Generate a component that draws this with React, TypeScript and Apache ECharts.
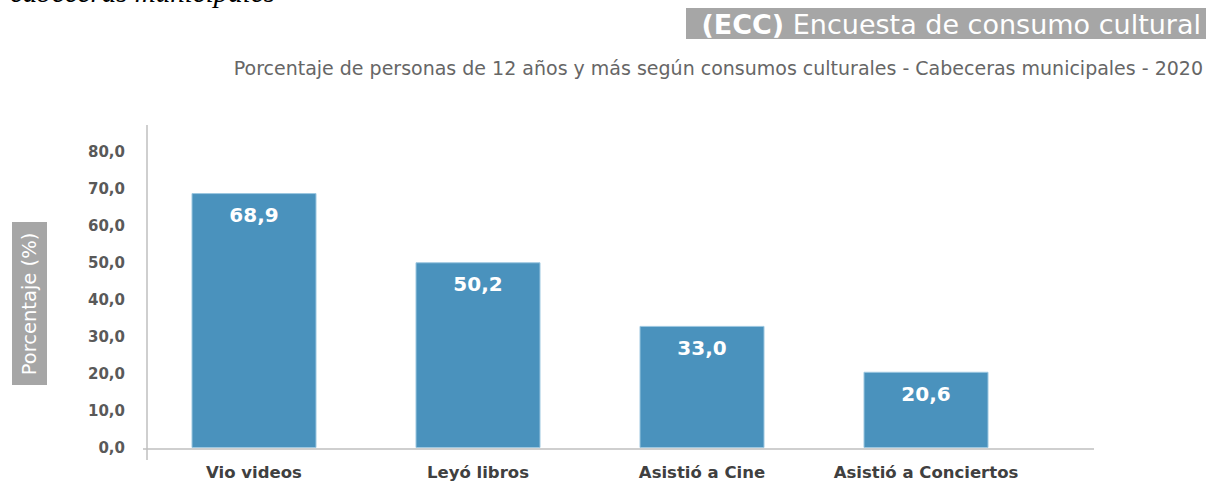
import React, { useEffect, useRef } from "react";
import * as echarts from "echarts";

const categories = ["Vio videos", "Leyó libros", "Asistió a Cine", "Asistió a Conciertos"];
const values = [68.9, 50.2, 33.0, 20.6];
const yTicks = { min: 0, max: 80, interval: 10 };
const titleMain = "Encuesta de consumo cultural";
const titleTag = "(ECC)";
const subtitle = "Porcentaje de personas de 12 años y más según consumos culturales - Cabeceras municipales - 2020";
const yName = "Porcentaje (%)";
const cutText = "cabeceras municipales";

const fmt = (v: number) => v.toFixed(1).replace(".", ",");

export default function App() {
  const ref = useRef<HTMLDivElement>(null);
  useEffect(() => {
    if (!ref.current) return;
    const chart = echarts.init(ref.current, null, { renderer: "svg" });
    const font = "'DejaVu Sans', 'Open Sans', sans-serif";
    chart.setOption({
      animation: false,
      backgroundColor: "#ffffff",
      grid: { left: 142, right: 172, top: 152, bottom: 34, containLabel: false },
      xAxis: {
        type: "category",
        data: categories,
        axisLine: { show: false },
        axisTick: { show: false },
        axisLabel: {
          interval: 0,
          color: "#404040",
          fontFamily: font,
          fontWeight: "bold",
          fontSize: 16.5,
          margin: 16,
        },
      },
      yAxis: {
        type: "value",
        min: yTicks.min,
        max: yTicks.max,
        interval: yTicks.interval,
        axisLine: { show: false },
        axisTick: { show: false },
        splitLine: { show: false },
        axisLabel: {
          color: "#595959",
          fontFamily: font,
          fontWeight: "bold",
          fontSize: 15,
          margin: 17,
          formatter: (v: number) => fmt(v),
        },
      },
      series: [
        {
          type: "bar",
          data: values,
          barWidth: 125,
          itemStyle: { color: "#4a92bd", borderColor: "#9cc7e0", borderWidth: 1 },
          label: {
            show: true,
            position: "insideTop",
            distance: 12,
            color: "#ffffff",
            fontFamily: font,
            fontWeight: "bold",
            fontSize: 20,
            formatter: (p: any) => fmt(p.value),
          },
        },
      ],
      graphic: [
        {
          type: "line",
          shape: { x1: 147, y1: 125, x2: 147, y2: 460 },
          style: { stroke: "#bfbfbf", lineWidth: 1.5 },
        },
        {
          type: "line",
          shape: { x1: 143, y1: 449, x2: 1094, y2: 449 },
          style: { stroke: "#bfbfbf", lineWidth: 1.5 },
        },
        {
          type: "rect",
          shape: { x: 686, y: 8, width: 520, height: 31 },
          style: { fill: "#a6a6a6" },
        },
        {
          type: "text",
          x: 1201,
          y: 24,
          style: {
            text: "{b|" + titleTag + "} " + titleMain,
            align: "right",
            verticalAlign: "middle",
            fill: "#ffffff",
            font: "27px " + font,
            rich: {
              b: { fontWeight: "bold", fontSize: 27, fontFamily: font, fill: "#ffffff" },
            },
          },
        },
        {
          type: "text",
          x: 1203,
          y: 68,
          style: {
            text: subtitle,
            align: "right",
            verticalAlign: "middle",
            fill: "#666666",
            font: "19px " + font,
          },
        },
        {
          type: "rect",
          shape: { x: 12, y: 222, width: 35, height: 163 },
          style: { fill: "#a6a6a6" },
        },
        {
          type: "text",
          x: 29.5,
          y: 304,
          rotation: Math.PI / 2,
          style: {
            text: yName,
            align: "center",
            verticalAlign: "middle",
            fill: "#ffffff",
            font: "19.5px " + font,
          },
        },
        {
          type: "text",
          x: 10,
          y: -8,
          style: {
            text: cutText,
            align: "left",
            verticalAlign: "middle",
            fill: "#000000",
            font: "italic 29px 'Liberation Serif', serif",
          },
        },
      ],
    });
    return () => chart.dispose();
  }, []);
  return (
    <div
      ref={ref}
      style={{ position: "absolute", left: 0, top: 0, width: 1210, height: 482 }}
    />
  );
}
